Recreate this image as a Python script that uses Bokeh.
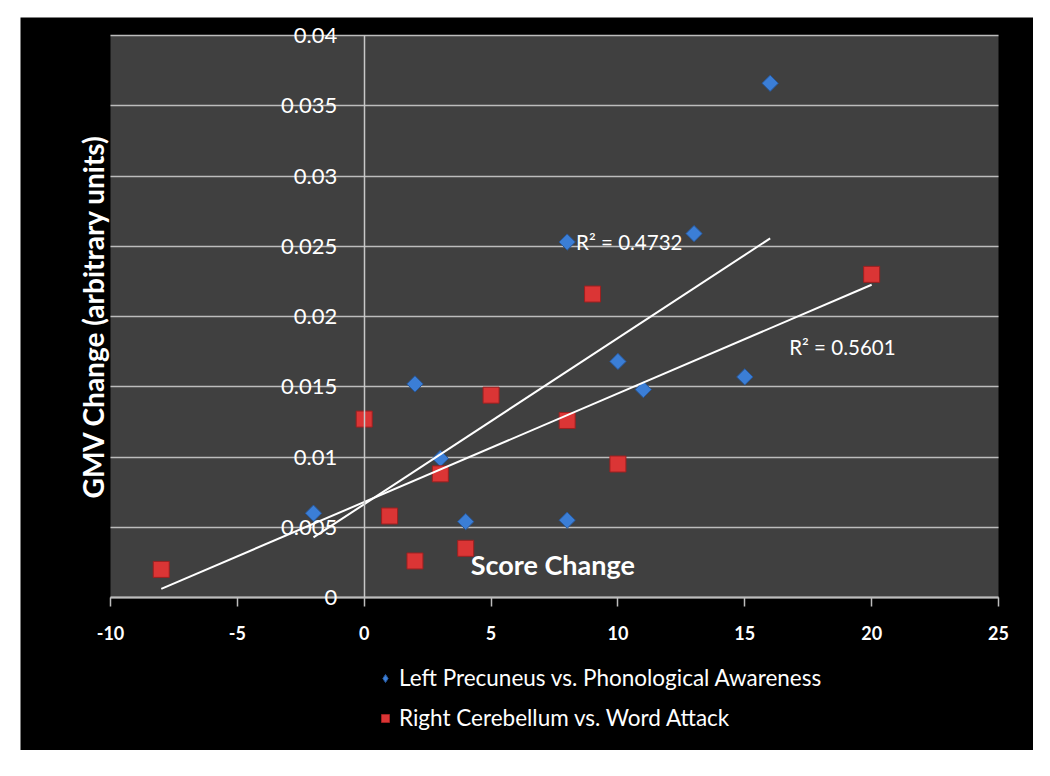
import numpy as np
from bokeh.plotting import figure
from bokeh.models import (Range1d, LinearAxis, FixedTicker, Grid, Label, Legend,
                          LegendItem, NumeralTickFormatter, Spacer, BoxAnnotation)
from bokeh.layouts import column, row
from bokeh.embed import file_html
from bokeh.resources import INLINE

# ---- data ----
blue_x = [-2, 2, 3, 4, 8, 8, 10, 11, 13, 15, 16]
blue_y = [0.0060, 0.0152, 0.0099, 0.0054, 0.0253, 0.0055, 0.0168, 0.0148, 0.0259, 0.0157, 0.0366]
red_x = [-8, 0, 1, 2, 3, 4, 5, 8, 9, 10, 20]
red_y = [0.0020, 0.0127, 0.0058, 0.0026, 0.0088, 0.0035, 0.0144, 0.0126, 0.0216, 0.0095, 0.0230]
series_names = ["Left Precuneus vs. Phonological Awareness", "Right Cerebellum vs. Word Attack"]
r2_texts = ["R\u00b2 = 0.4732", "R\u00b2 = 0.5601"]
x_ticks = [-10, -5, 0, 5, 10, 15, 20, 25]
y_ticks = [0, 0.005, 0.01, 0.015, 0.02, 0.025, 0.03, 0.035, 0.04]
x_title = "Score Change"
y_title = "GMV Change (arbitrary units)"
x_lo, x_hi = -10, 25
y_lo, y_hi = 0, 0.04

# ---- layout (pixels) ----
FIG_W, FIG_H = 1013, 733
PL, PR, PT, PB = 90, 978, 18, 580          # plot area inside the figure
ux = (PR - PL) / (x_hi - x_lo)
uy = (PB - PT) / (y_hi - y_lo)
xr = Range1d(x_lo - PL / ux, x_hi + (FIG_W - PR) / ux)
yr = Range1d(y_lo - (FIG_H - PB) / uy, y_hi + PT / uy)

FONT = "Lato"
GRID = "#bdbdbd"
BLUE, BLUE_EDGE = "#3b7ed6", "#27579a"
RED, RED_EDGE = "#db3535", "#9c2020"

p = figure(width=FIG_W, height=FIG_H, output_backend="svg", toolbar_location=None,
           x_range=xr, y_range=yr, x_axis_location=None, y_axis_location=None, title=None,
           background_fill_color="black", border_fill_color="black", outline_line_color=None,
           min_border_left=0, min_border_right=0, min_border_top=0, min_border_bottom=0)
# drop default grids
p.center = [r for r in p.center if not isinstance(r, Grid)]

# grey plot area
p.add_layout(BoxAnnotation(left=x_lo, right=x_hi, bottom=y_lo, top=y_hi,
                           fill_color="#404040", fill_alpha=1, line_color=None,
                           level="underlay"))

# horizontal gridlines
p.add_layout(Grid(dimension=1, ticker=FixedTicker(ticks=y_ticks), cross_bounds=(x_lo, x_hi),
                  grid_line_color=GRID, grid_line_width=1.5, level="underlay"))

# x axis along y = 0
xax = LinearAxis(fixed_location=0, bounds=(x_lo, x_hi), ticker=FixedTicker(ticks=x_ticks),
                 formatter=NumeralTickFormatter(format="0"),
                 major_tick_out=9, major_tick_in=0, minor_tick_out=0, minor_tick_in=0,
                 axis_line_color=GRID, axis_line_width=2,
                 major_tick_line_color=GRID, major_tick_line_width=1.5,
                 major_label_standoff=19, major_label_text_color="white",
                 major_label_text_font=FONT, major_label_text_font_style="bold",
                 major_label_text_font_size="18px")
p.add_layout(xax, "below")

# y axis crossing at x = 0
yax = LinearAxis(fixed_location=0, bounds=(y_lo, y_hi), ticker=FixedTicker(ticks=y_ticks),
                 formatter=NumeralTickFormatter(format="0.[000]"),
                 major_tick_out=0, major_tick_in=0, minor_tick_out=0, minor_tick_in=0,
                 axis_line_color="#c8c8c8", axis_line_width=1.5,
                 major_label_standoff=27, major_label_text_color="white",
                 major_label_text_font=FONT, major_label_text_font_size="22px")
p.add_layout(yax, "left")

# scatter series
rb = p.scatter(blue_x, blue_y, marker="square", angle=np.pi / 4, size=11.5,
               fill_color=BLUE, line_color=BLUE_EDGE, line_width=1)
rr = p.scatter(red_x, red_y, marker="square", size=16,
               fill_color=RED, line_color=RED_EDGE, line_width=1)
# legend proxy for the diamond symbol (legend glyphs ignore rotation)
rb_key = p.scatter(blue_x, blue_y, marker="diamond", size=10,
                   fill_color=BLUE, line_color=BLUE_EDGE, visible=False)

# linear trendlines
for xs, ys in ((blue_x, blue_y), (red_x, red_y)):
    m, b = np.polyfit(xs, ys, 1)
    lx = np.array([min(xs), max(xs)], dtype=float)
    p.line(lx, m * lx + b, line_color="white", line_width=2)

# R² labels
for (lx, ly), t in zip(((8.35, 0.0253), (16.75, 0.0178)), r2_texts):
    p.add_layout(Label(x=lx, y=ly, text=t, text_color="white", text_font=FONT,
                       text_font_size="20.5px", text_baseline="middle", text_align="left"))

# axis titles (placed as in the reference)
p.add_layout(Label(x=4.2, y=0.00235, text=x_title, text_color="white", text_font=FONT,
                   text_font_style="bold", text_font_size="27px",
                   text_baseline="middle", text_align="left"))
p.add_layout(Label(x=x_lo - 18 / ux, y=(y_lo + y_hi) / 2, text=y_title, angle=np.pi / 2,
                   text_color="white", text_font=FONT, text_font_style="bold",
                   text_font_size="28px", text_baseline="middle", text_align="center"))

legend = Legend(items=[LegendItem(label=series_names[0], renderers=[rb_key]),
                       LegendItem(label=series_names[1], renderers=[rr])],
                location=(355, 19), orientation="vertical",
                background_fill_alpha=0, border_line_color=None,
                inactive_fill_alpha=0,
                label_text_color="white", label_text_font=FONT, label_text_font_size="22.5px",
                glyph_width=20, glyph_height=20, label_height=20, spacing=13,
                padding=0, margin=0, label_standoff=4)
p.add_layout(legend, "center")

layout = column(Spacer(height=17), row(Spacer(width=20), p))
open("out.html", "w").write(file_html(layout, INLINE))
